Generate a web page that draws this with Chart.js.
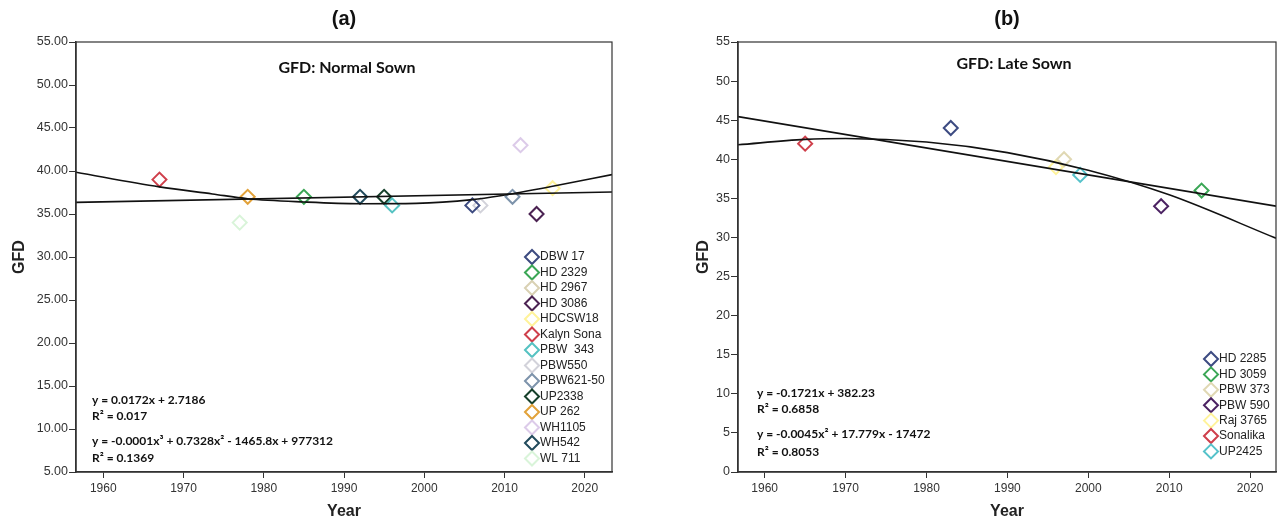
<!DOCTYPE html>
<html>
<head>
<meta charset="utf-8">
<script src="https://cdn.jsdelivr.net/npm/chart.js@4.4.1/dist/chart.umd.min.js"></script>
<style>
  html, body { margin: 0; padding: 0; background: #fff; overflow: hidden; }
  #wrap { position: relative; width: 1278px; height: 521px; overflow: hidden; }
  .panel { position: absolute; top: 0; height: 521px; }
  #panelA { left: 0; width: 640px; }
  #panelB { left: 640px; width: 645px; }
</style>
</head>
<body>
<div id="wrap">
  <div class="panel" id="panelA"><canvas id="chartA"></canvas></div>
  <div class="panel" id="panelB"><canvas id="chartB"></canvas></div>
</div>
<script>
// Panel (a): GFD normal sown
const varietiesA = ['DBW 17', 'HD 2329', 'HD 2967', 'HD 3086', 'HDCSW18', 'Kalyn Sona', 'PBW  343',
  'PBW550', 'PBW621-50', 'UP2338', 'UP 262', 'WH1105', 'WH542', 'WL 711'];
const yearsA = [2006, 1985, 2011, 2014, 2016, 1967, 1996, 2007, 2011, 1995, 1978, 2012, 1992, 1977];
const gfdA = [36, 37, null, 35, 38, 39, 36, 36, 37, 37, 37, 43, 37, 34];
const coloursA = ['#3d4b80', '#3aa655', '#d9d1b3', '#4b2252', '#fff39a', '#cf3f4b', '#55c2c2',
  '#d2d2da', '#7d93ab', '#16402b', '#e2a23a', '#dccbe9', '#214a5c', '#d9f4d9'];

// trend lines (a)
const linYearsA = [1956.6, 2023.4];
const linGfdA = [36.35, 37.56];
const cubYearsA = [1956.6, 1967, 1973.6, 1978, 1985, 1992, 1999, 2006, 2009.5, 2016, 2023.4];
const cubGfdA = [39.85, 38.15, 37.33, 36.78, 36.4, 36.2, 36.24, 36.67, 37.13, 38.22, 39.58];
const eqA = ['y = 0.0172x + 2.7186', 'R\u00b2 = 0.017', 'y = -0.0001x\u00b3 + 0.7328x\u00b2 - 1465.8x + 977312', 'R\u00b2 = 0.1369'];

// Panel (b): GFD late sown
const varietiesB = ['HD 2285', 'HD 3059', 'PBW 373', 'PBW 590', 'Raj 3765', 'Sonalika', 'UP2425'];
const yearsB = [1983, 2014, 1997, 2009, 1996, 1965, 1999];
const gfdB = [44, 36, 40, 34, 39, 42, 38];
const coloursB = ['#3d4b82', '#3aa655', '#e0d8b3', '#4b2262', '#fff39a', '#cf3f4b', '#55c2ca'];

const linYearsB = [1956.7, 2023.2];
const linGfdB = [45.45, 34.0];
const quadYearsB = [1956.7, 1965, 1970, 1980, 1990, 2000, 2010, 2023.2];
const quadGfdB = [41.85, 42.54, 42.65, 42.2, 40.85, 38.6, 35.45, 29.9];
const eqB = ['y = -0.1721x + 382.23', 'R\u00b2 = 0.6858', 'y = -0.0045x\u00b2 + 17.779x - 17472', 'R\u00b2 = 0.8053'];

const xTicks = [1960, 1970, 1980, 1990, 2000, 2010, 2020];
const yTicksA = [5, 10, 15, 20, 25, 30, 35, 40, 45, 50, 55];
const yTicksB = [0, 5, 10, 15, 20, 25, 30, 35, 40, 45, 50, 55];

const axisFont = '"Liberation Sans", Arial, sans-serif';

const overlay = {
  id: 'overlay',
  afterDraw(chart, args, o) {
    const { ctx, chartArea: a } = chart;
    ctx.save();
    ctx.strokeStyle = '#333';
    ctx.lineWidth = 1.2;
    ctx.strokeRect(a.left, a.top, a.right - a.left, a.bottom - a.top);

    ctx.fillStyle = '#111';
    ctx.textAlign = 'center';
    ctx.textBaseline = 'middle';
    ctx.font = 'bold 20px ' + axisFont;
    ctx.fillText(o.letter, (a.left + a.right) / 2, 19);
    ctx.font = 'bold 16px Lato, sans-serif';
    ctx.fillText(o.subtitle, o.subX, o.subY);

    ctx.textAlign = 'left';
    ctx.font = 'bold 12px Lato, sans-serif';
    o.equations.forEach((t, i) => ctx.fillText(t, o.eqX, o.eqY[i]));

    // legend
    ctx.font = '12px ' + axisFont;
    chart.data.datasets.filter(d => d.variety).forEach((d, i) => {
      const y = o.legY + i * o.legStep;
      const x = o.legX;
      ctx.beginPath();
      ctx.moveTo(x - 7, y);
      ctx.lineTo(x, y - 7);
      ctx.lineTo(x + 7, y);
      ctx.lineTo(x, y + 7);
      ctx.closePath();
      ctx.strokeStyle = d.borderColor;
      ctx.lineWidth = 2;
      ctx.stroke();
      ctx.fillStyle = '#222';
      ctx.fillText(d.label, x + 8, y);
    });
    ctx.restore();
  }
};

function makeChart(id, p) {
  const datasets = [
    { type: 'line', data: p.linX.map((x, i) => ({ x, y: p.linY[i] })), borderColor: '#111',
      borderWidth: 1.6, pointRadius: 0, fill: false, order: 0 },
    { type: 'line', data: p.curX.map((x, i) => ({ x, y: p.curY[i] })), borderColor: '#111',
      borderWidth: 1.6, pointRadius: 0, fill: false, cubicInterpolationMode: 'monotone', order: 0 }
  ];
  p.names.forEach((n, i) => {
    datasets.push({
      type: 'scatter', variety: true, label: n,
      data: p.gfd[i] === null ? [] : [{ x: p.years[i], y: p.gfd[i] }],
      borderColor: p.colours[i], backgroundColor: 'rgba(255,255,255,0)',
      pointStyle: 'rectRot', pointRadius: 7, borderWidth: 2, order: 1
    });
  });

  return new Chart(document.getElementById(id), {
    data: { datasets },
    options: {
      responsive: true,
      maintainAspectRatio: false,
      animation: false,
      layout: { padding: { top: 42, right: p.padRight, left: 0, bottom: 0 } },
      plugins: { legend: { display: false }, tooltip: { enabled: false }, overlay: p.overlay },
      scales: {
        x: {
          type: 'linear', min: p.xMin, max: p.xMax,
          afterBuildTicks: s => { s.ticks = xTicks.map(v => ({ value: v })); },
          afterFit: s => { s.height = 49; },
          grid: { drawOnChartArea: false, drawTicks: true, tickLength: 6, color: '#333' },
          border: { color: '#333', width: 1.5 },
          ticks: { color: '#333', font: { family: axisFont, size: 12 }, padding: 3, maxRotation: 0,
            callback: v => String(v) },
          title: { display: true, text: 'Year', color: '#222', font: { family: axisFont, size: 16, weight: 'bold' },
            padding: { top: 0, bottom: 0 } }
        },
        y: {
          type: 'linear', min: p.yTicks[0], max: p.yTicks[p.yTicks.length - 1],
          afterBuildTicks: s => { s.ticks = p.yTicks.map(v => ({ value: v })); },
          afterFit: s => { s.width = p.yWidth; },
          grid: { drawOnChartArea: false, drawTicks: true, tickLength: 7, color: '#333' },
          border: { color: '#333', width: 1.5 },
          ticks: { color: '#333', font: { family: axisFont, size: 12.5 }, padding: 1, callback: p.yFmt },
          title: { display: true, text: 'GFD', color: '#222', font: { family: axisFont, size: 16, weight: 'bold' },
            padding: { top: p.yTitlePad, bottom: 0 } }
        }
      }
    },
    plugins: [overlay]
  });
}

makeChart('chartA', {
  names: varietiesA, years: yearsA, gfd: gfdA, colours: coloursA,
  linX: linYearsA, linY: linGfdA, curX: cubYearsA, curY: cubGfdA,
  xMin: 1956.6, xMax: 2023.4, yTicks: yTicksA, yWidth: 76, yTitlePad: 10, padRight: 28,
  yFmt: v => v.toFixed(2),
  overlay: { letter: '(a)', subtitle: 'GFD: Normal Sown', subX: 347, subY: 68,
    equations: eqA, eqX: 92, eqY: [400, 416, 441, 458],
    legX: 532, legY: 257, legStep: 15.5 }
});

makeChart('chartB', {
  names: varietiesB, years: yearsB, gfd: gfdB, colours: coloursB,
  linX: linYearsB, linY: linGfdB, curX: quadYearsB, curY: quadGfdB,
  xMin: 1956.7, xMax: 2023.2, yTicks: yTicksB, yWidth: 98, yTitlePad: 54, padRight: 2,
  yFmt: v => String(v),
  overlay: { letter: '(b)', subtitle: 'GFD: Late Sown', subX: 374, subY: 64,
    equations: eqB, eqX: 117, eqY: [393, 409, 434, 452],
    legX: 571, legY: 359, legStep: 15.4 }
});
</script>
</body>
</html>
